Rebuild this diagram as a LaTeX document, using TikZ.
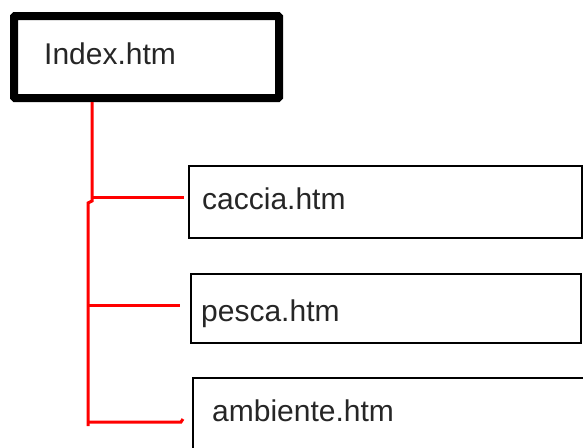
\documentclass[tikz,border=0pt]{standalone}
\usepackage{fontspec}
\setmainfont{Liberation Sans}
\begin{document}
\begin{tikzpicture}[x=1pt,y=-1pt,
  page/.style={draw=black,line width=1.2pt,rectangle,inner sep=0pt,fill=none},
  mainpage/.style={draw=black,line width=8pt,rectangle,inner sep=0pt,rounded corners=1pt},
  lbl/.style={anchor=base west,inner sep=0pt,font=\fontsize{30}{36}\selectfont,text=black!85},
  link/.style={draw=red,line width=3pt}]
\clip (0,0) rectangle (583,447);
\fill[white] (0,0) rectangle (583,447);
% boxes
\node[mainpage,minimum width=265pt,minimum height=82pt] (index) at (146.5,57) {};
\node[page,minimum width=393pt,minimum height=72pt] (caccia) at (385.5,202) {};
\node[page,minimum width=390pt,minimum height=69pt] (pesca) at (386,308.5) {};
\node[page,minimum width=400pt,minimum height=100pt] (ambiente) at (393,428) {};
% texts
\node[lbl] (tindex) at (44,64) {Index.htm};
\node[lbl] (tcaccia) at (202,209) {caccia.htm};
\node[lbl] (tpesca) at (201,321) {pesca.htm};
\node[lbl] (tambiente) at (212,421) {ambiente.htm};
% connectors
\coordinate (t1) at (92,0);
\coordinate (t2) at (88,0);
\coordinate (bend) at (92,201);
\coordinate (bend2) at (88,203);
\coordinate (endc) at (184,197);
\coordinate (endp) at (180,305);
\coordinate (enda) at (181,422);
\coordinate (bottom) at (88,426);
\draw[link] (index.south -| t1) -- (bend) -- (bend2) -- (bottom);
\draw[link] (endc -| t1) -- (endc);
\draw[link] (endp -| t2) -- (endp);
\draw[link] (enda -| t2) -- (enda) -- ++(2,-3);
\end{tikzpicture}
\end{document}
